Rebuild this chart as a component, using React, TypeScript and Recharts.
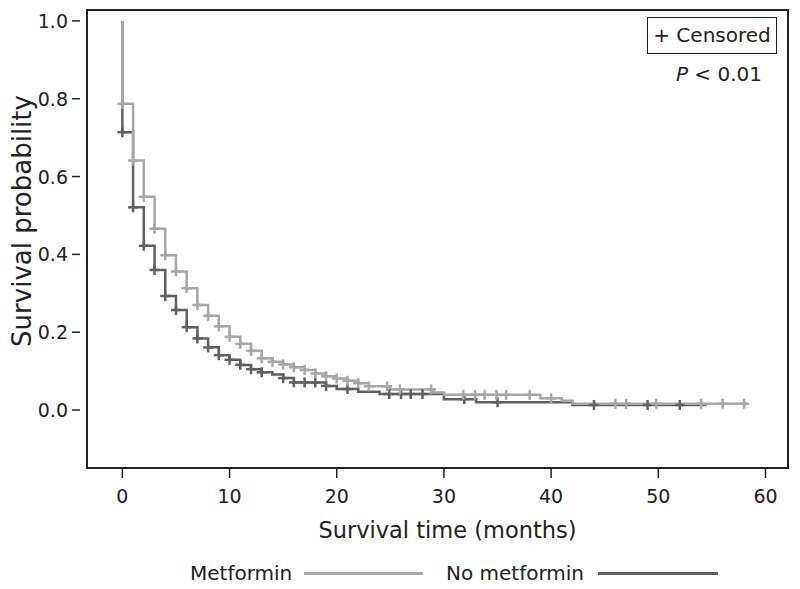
import React from "react";
import {
  ComposedChart,
  Line,
  Scatter,
  XAxis,
  YAxis,
  ReferenceArea,
  Label,
} from "recharts";

// Kaplan-Meier steps: time of the drop (months) and survival after it
const metforminTimes = [0, 0, 1, 2, 3, 4, 5, 6, 7, 8, 9, 10, 11, 12, 13, 14, 15, 16, 17, 18, 19, 20, 21, 22, 23, 25, 29, 30, 39, 41, 42];
const metforminSurvival = [1.0, 0.787, 0.641, 0.548, 0.466, 0.398, 0.356, 0.313, 0.27, 0.242, 0.215, 0.188, 0.17, 0.152, 0.133, 0.124, 0.117, 0.11, 0.103, 0.094, 0.087, 0.081, 0.075, 0.069, 0.061, 0.053, 0.045, 0.039, 0.03, 0.024, 0.016];
const metforminEnd = 58.2;
const metforminCensored = [0, 1, 2, 3, 4, 5, 6, 7, 8, 9, 10, 11, 12, 13, 14, 15, 16, 17, 18, 19, 20, 21, 22, 23, 24.7, 25.9, 28.8, 31.8, 32.9, 33.8, 34.9, 35.8, 38, 40, 46, 47, 49.8, 54, 56, 58];

const noMetforminTimes = [0, 0, 1, 2, 3, 4, 5, 6, 7, 8, 9, 10, 11, 12, 13, 14, 15, 16, 19, 20, 22, 24, 30, 33, 42];
const noMetforminSurvival = [1.0, 0.714, 0.521, 0.422, 0.36, 0.293, 0.257, 0.213, 0.184, 0.161, 0.141, 0.129, 0.116, 0.105, 0.097, 0.091, 0.082, 0.071, 0.062, 0.054, 0.047, 0.041, 0.028, 0.02, 0.013];
const noMetforminEnd = 54.5;
const noMetforminCensored = [0, 1, 2, 3, 4, 5, 6, 7, 8, 9, 10, 11, 12, 13, 15, 16, 17, 18, 19, 21, 24.9, 26, 26.9, 28, 31.9, 35, 44, 49, 52];

const xTicks = [0, 10, 20, 30, 40, 50, 60];
const yTicks = [0, 0.2, 0.4, 0.6, 0.8, 1.0];
const xDomain = [-3.3, 62.1];
const yDomain = [-0.149, 1.028];

const LIGHT = "#a7a7a7";
const DARK = "#606060";
const INK = "#222";
const FONT = "'DejaVu Sans', sans-serif";

const toSteps = (times: number[], surv: number[], end: number) => [
  ...times.map((t, i) => ({ t, s: surv[i] })),
  { t: end, s: surv[surv.length - 1] },
];

const survivalAt = (times: number[], surv: number[], t: number) => {
  let v = surv[0];
  times.forEach((ti, i) => {
    if (ti <= t + 1e-9) v = surv[i];
  });
  return v;
};

const metforminData = toSteps(metforminTimes, metforminSurvival, metforminEnd);
const noMetforminData = toSteps(noMetforminTimes, noMetforminSurvival, noMetforminEnd);
const metforminMarks = metforminCensored.map((t) => ({ t, s: survivalAt(metforminTimes, metforminSurvival, t) }));
const noMetforminMarks = noMetforminCensored.map((t) => ({ t, s: survivalAt(noMetforminTimes, noMetforminSurvival, t) }));

const plusShape = (color: string) => (props: any) => {
  const { cx, cy } = props;
  return (
    <g stroke={color} strokeWidth={2.5}>
      <line x1={cx - 5} x2={cx + 5} y1={cy} y2={cy} />
      <line x1={cx} x2={cx} y1={cy - 5} y2={cy + 5} />
    </g>
  );
};

const YTick = (props: any) => {
  const { x, y, payload } = props;
  return (
    <g>
      <text x={x} y={y} textAnchor="end" dominantBaseline="central" fontSize={19} fontFamily={FONT} fill={INK}>
        {Number(payload.value).toFixed(1)}
      </text>
      <line x1={x + 4} x2={x + 12} y1={y} y2={y} stroke={INK} strokeWidth={1.5} />
    </g>
  );
};

export default function App() {
  return (
    <div style={{ position: "absolute", left: 0, top: 0, width: 800, height: 589, background: "#fff", fontFamily: FONT, color: INK }}>
      <ComposedChart width={800} height={589} margin={{ top: 10, right: 12, left: 0, bottom: 81 }}>
        <XAxis
          dataKey="t"
          type="number"
          domain={xDomain}
          ticks={xTicks}
          allowDataOverflow
          axisLine={false}
          tickLine={{ stroke: INK, strokeWidth: 1.5 }}
          tickSize={10}
          tickMargin={12}
          height={40}
          tick={{ fontSize: 19, fontFamily: FONT, fill: INK }}
        >
          <Label
            content={({ viewBox }: any) => (
              <text
                x={viewBox.x + viewBox.width / 2 + 10}
                y={viewBox.y + viewBox.height + 30}
                textAnchor="middle"
                fontSize={22.5}
                fontFamily={FONT}
                fill={INK}
              >
                Survival time (months)
              </text>
            )}
          />
        </XAxis>
        <YAxis
          dataKey="s"
          type="number"
          domain={yDomain}
          ticks={yTicks}
          allowDataOverflow
          axisLine={false}
          tickLine={false}
          tickSize={0}
          tickMargin={19}
          width={87}
          tick={<YTick />}
        >
          <Label
            content={() => (
              <text
                x={22}
                y={221}
                transform="rotate(-90 22 221)"
                textAnchor="middle"
                dominantBaseline="central"
                fontSize={26}
                fontFamily={FONT}
                fill={INK}
              >
                Survival probability
              </text>
            )}
          />
        </YAxis>
        <Line data={noMetforminData} dataKey="s" type="stepAfter" stroke={DARK} strokeWidth={2.5} dot={false} isAnimationActive={false} />
        <Scatter data={noMetforminMarks} dataKey="s" shape={plusShape(DARK)} isAnimationActive={false} />
        <Line data={metforminData} dataKey="s" type="stepAfter" stroke={LIGHT} strokeWidth={2.5} dot={false} isAnimationActive={false} />
        <Scatter data={metforminMarks} dataKey="s" shape={plusShape(LIGHT)} isAnimationActive={false} />
        <ReferenceArea
          x1={xDomain[0]}
          x2={xDomain[1]}
          y1={yDomain[0]}
          y2={yDomain[1]}
          fill="none"
          stroke={INK}
          strokeWidth={2}
          ifOverflow="visible"
        />
      </ComposedChart>

      <div
        style={{
          position: "absolute",
          left: 647,
          top: 17,
          width: 128,
          height: 35,
          border: `1.5px solid ${INK}`,
          fontSize: 20,
          lineHeight: "35px",
          textAlign: "center",
        }}
      >
        + Censored
      </div>
      <div style={{ position: "absolute", left: 600, width: 162, top: 61, fontSize: 20, lineHeight: "26px", textAlign: "right" }}>
        <i>P</i> &lt; 0.01
      </div>

      <div style={{ position: "absolute", left: 190, top: 559, height: 28, display: "flex", alignItems: "center", fontSize: 20 }}>
        <span>Metformin</span>
        <span style={{ display: "inline-block", width: 119, height: 3, background: LIGHT, marginLeft: 12 }} />
      </div>
      <div style={{ position: "absolute", left: 446, top: 559, height: 28, display: "flex", alignItems: "center", fontSize: 20 }}>
        <span>No metformin</span>
        <span style={{ display: "inline-block", width: 120, height: 3, background: DARK, marginLeft: 14 }} />
      </div>
    </div>
  );
}
